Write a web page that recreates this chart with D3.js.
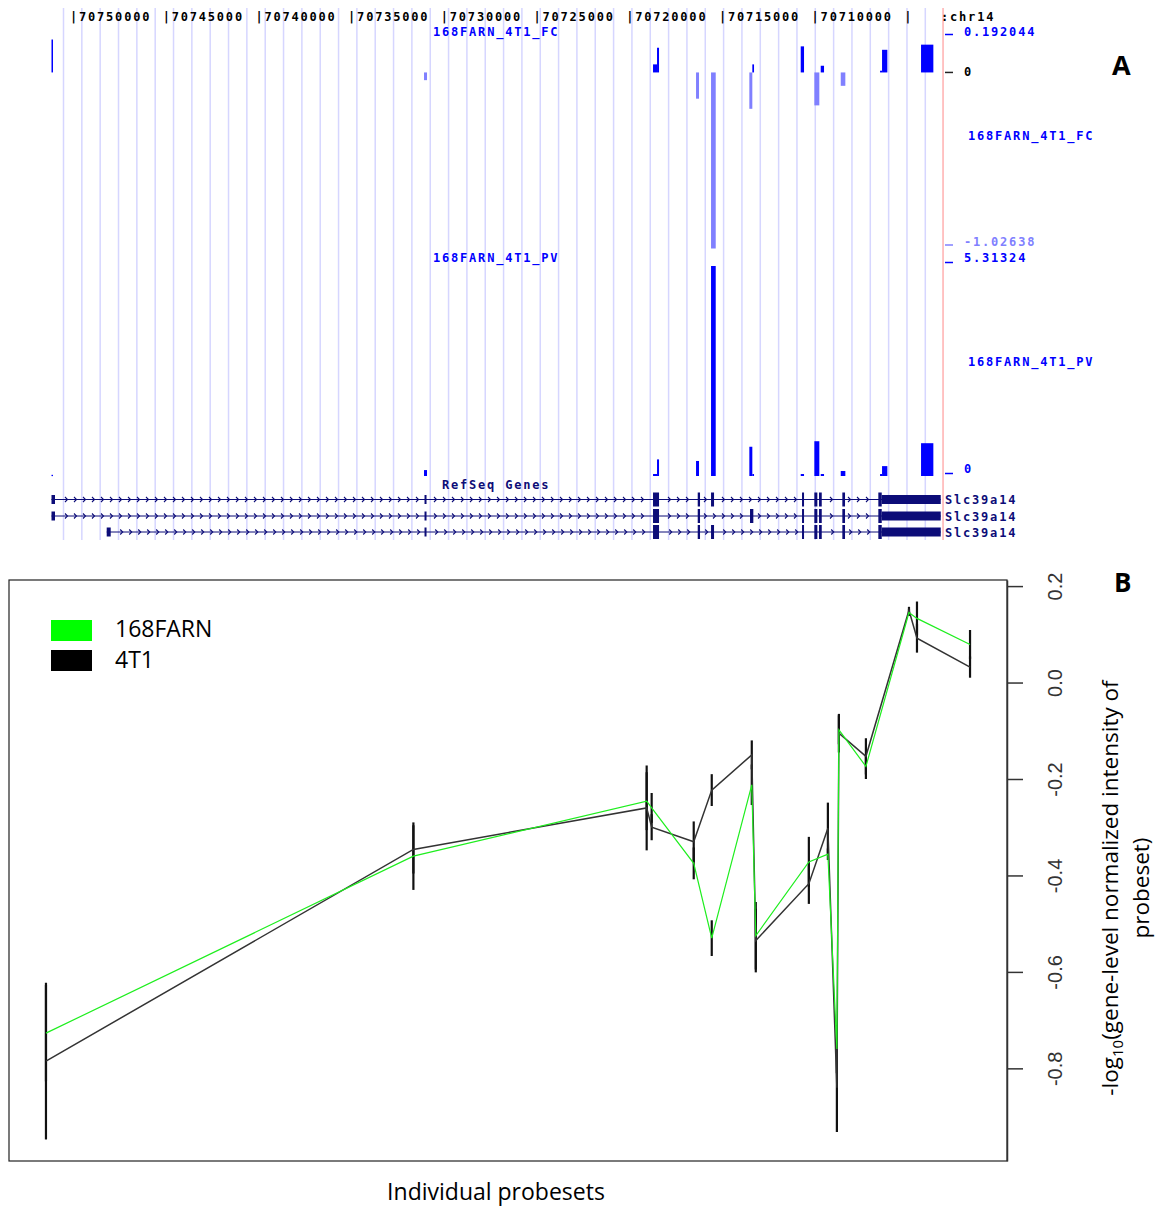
<!DOCTYPE html>
<html>
<head>
<meta charset="utf-8">
<script src="https://cdn.jsdelivr.net/npm/d3@7"></script>
<style>
  html, body { margin: 0; padding: 0; background: #fff; }
  svg { display: block; }
  .mono { font-family: "DejaVu Sans Mono", monospace; font-size: 12px; font-weight: bold; letter-spacing: 1.8px; }
  .sans { font-family: "Open Sans", "Liberation Sans", sans-serif; }
</style>
</head>
<body>
<svg id="fig" width="1165" height="1206"></svg>
<script>
// ---------- Panel A: genome browser view of Slc39a14 (chr14) ----------
const rulerTicks = [70750000, 70745000, 70740000, 70735000, 70730000, 70725000, 70720000, 70715000, 70710000];
const rulerBareTick = 70705000;
const windowEnd = 70703099;

// probe intervals [lo, hi] on chr14
const probeStart = [70751106, 70730932, 70718526, 70718418, 70716261, 70715360, 70713386, 70713294, 70710597, 70709772, 70709518, 70708369, 70706389, 70706104, 70703622];
const probeEnd   = [70751187, 70731094, 70718742, 70718526, 70716422, 70715613, 70713547, 70713386, 70710775, 70710041, 70709696, 70708617, 70706497, 70706389, 70704286];
// 168FARN vs 4T1 fold change and p-value tracks
const fcValues = [0.192, -0.045, 0.047, 0.144, -0.153, -1.02638, -0.212, 0.047, 0.152, -0.192, 0.039, -0.078, 0.01, 0.132, 0.162];
const pvValues = [0.03, 0.15, 0.05, 0.42, 0.38, 5.31324, 0.74, 0.05, 0.05, 0.88, 0.05, 0.127, 0.05, 0.25, 0.83];
const fcRange = [-1.02638, 0.192044];
const pvRange = [0, 5.31324];

// RefSeq transcripts of Slc39a14
const cdsRange = [70706406, 70718742];
const sharedExons = [[70730959, 70731067], [70718418, 70718742], [70716207, 70716331],
  [70710597, 70710705], [70709879, 70710041], [70709642, 70709788], [70708386, 70708531], [70703223, 70706589]];
const transcripts = [
  { name: "Slc39a14", txStart: 70703223, txEnd: 70751187, exons: [[70750998, 70751187], [70715451, 70715613], ...sharedExons] },
  { name: "Slc39a14", txStart: 70703223, txEnd: 70751187, exons: [[70750998, 70751187], [70713332, 70713510], ...sharedExons] },
  { name: "Slc39a14", txStart: 70703223, txEnd: 70748209, exons: [[70747993, 70748209], [70715451, 70715613], ...sharedExons] }
];

// ---------- Panel B: probeset intensities ----------
const probesetPos = [70751375, 70731579, 70719011, 70718742, 70716476, 70715505, 70713348, 70713132,
  70710273, 70709248, 70708763, 70708655, 70707199, 70704879, 70704448, 70701589];
const farnMean = [-0.727, -0.36, -0.246, -0.26, -0.375, -0.53, -0.212, -0.525, -0.372, -0.356, -0.76, -0.098, -0.174, 0.145, 0.133, 0.079];
const farnErr  = [0.1, 0.07, 0.06, 0.031, 0.033, 0.037, 0.042, 0.07, 0.052, 0.012, 0.05, 0.03, 0.026, 0.007, 0.035, 0.03];
const t41Mean  = [-0.785, -0.346, -0.26, -0.30, -0.33, -0.223, -0.15, -0.535, -0.417, -0.302, -0.84, -0.105, -0.153, 0.15, 0.092, 0.032];
const t41Err   = [0.1625, 0.05, 0.088, 0.027, 0.042, 0.033, 0.03, 0.066, 0.042, 0.053, 0.092, 0.04, 0.0375, 0.007, 0.03, 0.022];
const seriesNames = ["168FARN", "4T1"];
const seriesColors = ["#00ff00", "#000000"];
const yTicks = [-0.8, -0.6, -0.4, -0.2, 0.0, 0.2];

const svg = d3.select("#fig");
svg.append("rect").attr("width", 1165).attr("height", 1206).attr("fill", "#fff");

// genomic x scale (reverse orientation)
const gx = d3.scaleLinear().domain([70750000, 70705000]).range([73.5, 907.8]);
const fy = d3.scaleLinear().domain(fcRange).range([248.5, 39.5]);
const py = d3.scaleLinear().domain(pvRange).range([476, 266]);

const A = svg.append("g");

// guidelines
const guides = d3.range(70750539, 70703500, -989);
A.append("g").selectAll("line").data(guides).join("line")
  .attr("x1", d => gx(d)).attr("x2", d => gx(d))
  .attr("y1", 8).attr("y2", 540)
  .attr("stroke", "#d6d6ff").attr("stroke-width", 1.5);
A.append("line").attr("x1", gx(windowEnd)).attr("x2", gx(windowEnd))
  .attr("y1", 8).attr("y2", 540).attr("stroke", "#ffb0b0").attr("stroke-width", 1.5);

// base position ruler
A.append("g").selectAll("text").data(rulerTicks).join("text")
  .attr("class", "mono").attr("x", d => gx(d) - 3.5).attr("y", 20.5)
  .attr("fill", "#000").text(d => "|" + d);
A.append("text").attr("class", "mono").attr("x", gx(rulerBareTick) - 3.5).attr("y", 20.5).text("|");
A.append("text").attr("class", "mono").attr("x", gx(windowEnd) - 2).attr("y", 20.5).text(":chr14");

const probes = probeStart.map((s, i) => ({ lo: s, hi: probeEnd[i], fc: fcValues[i], pv: pvValues[i] }));
const bx = d => gx(d.hi);
const bw = d => Math.max(1.3, gx(d.lo) - gx(d.hi));

// fold-change track
A.append("g").selectAll("rect").data(probes).join("rect")
  .attr("x", bx).attr("width", bw)
  .attr("y", d => fy(Math.max(0, d.fc)))
  .attr("height", d => Math.max(1, Math.abs(fy(d.fc) - fy(0))))
  .attr("fill", d => d.fc >= 0 ? "#0000ff" : "#8080ff");

// p-value track
A.append("g").selectAll("rect").data(probes).join("rect")
  .attr("x", bx).attr("width", bw)
  .attr("y", d => py(d.pv))
  .attr("height", d => Math.max(1.3, py(0) - py(d.pv)))
  .attr("fill", "#0000ff");

// track labels
const blue = "#0000ff", light = "#8080ff", navy = "#0c0c78";
A.append("text").attr("class", "mono").attr("x", 433).attr("y", fy(fcRange[1]) - 4).attr("fill", blue).text("168FARN_4T1_FC");
A.append("text").attr("class", "mono").attr("x", 433).attr("y", py(pvRange[1]) - 4.5).attr("fill", blue).text("168FARN_4T1_PV");
A.append("text").attr("class", "mono").attr("x", 442).attr("y", 488.5).attr("fill", navy).text("RefSeq Genes");
A.append("text").attr("class", "mono").attr("x", 968).attr("y", 139.5).attr("fill", blue).text("168FARN_4T1_FC");
A.append("text").attr("class", "mono").attr("x", 968).attr("y", 365.5).attr("fill", blue).text("168FARN_4T1_PV");

const scaleLabels = [
  { y: fy(fcRange[1]) - 5, ty: fy(fcRange[1]) - 4, text: "0.192044", c: blue, uc: blue },
  { y: fy(0), ty: fy(0) + 4, text: "0", c: "#000", uc: "#222" },
  { y: fy(fcRange[0]) - 3.5, ty: fy(fcRange[0]) - 3, text: "-1.02638", c: light, uc: light },
  { y: py(pvRange[1]) - 3.5, ty: py(pvRange[1]) - 4.5, text: "5.31324", c: blue, uc: blue },
  { y: py(0) - 2.5, ty: py(0) - 3.5, text: "0", c: blue, uc: blue }
];
scaleLabels.forEach(l => {
  A.append("line").attr("x1", 945).attr("x2", 953).attr("y1", l.y).attr("y2", l.y)
    .attr("stroke", l.uc).attr("stroke-width", 1.5);
  A.append("text").attr("class", "mono").attr("x", 964).attr("y", l.ty).attr("fill", l.c).text(l.text);
});

// gene models
const rowY = [499.5, 516, 532];
transcripts.forEach((t, i) => {
  const g = A.append("g");
  const y = rowY[i];
  g.append("line").attr("x1", gx(t.txEnd)).attr("x2", gx(t.txStart))
    .attr("y1", y).attr("y2", y).attr("stroke", navy).attr("stroke-width", 1);
  const exPx = t.exons.map(e => [gx(e[1]), gx(e[0])]);
  const arrows = d3.range(gx(t.txEnd) + 6, gx(t.txStart) - 3, 9)
    .filter(x => !exPx.some(e => x > e[0] - 3 && x < e[1] + 3));
  g.selectAll("path").data(arrows).join("path")
    .attr("d", x => `M${x - 1.5},${y - 2.5}L${x + 1},${y}L${x - 1.5},${y + 2.5}`)
    .attr("fill", "none").attr("stroke", navy).attr("stroke-width", 1.1);
  // exon pieces split into coding (thick) and untranslated (thin)
  t.exons.forEach(e => {
    const parts = [];
    const cLo = Math.max(e[0], cdsRange[0]), cHi = Math.min(e[1], cdsRange[1]);
    if (cLo < cHi) {
      parts.push([cLo, cHi, 14]);
      if (e[0] < cLo) parts.push([e[0], cLo, 9]);
      if (e[1] > cHi) parts.push([cHi, e[1], 9]);
    } else parts.push([e[0], e[1], 9]);
    parts.forEach(p => {
      const x0 = gx(p[1]), w = Math.max(1.8, gx(p[0]) - gx(p[1]));
      g.append("rect").attr("x", x0).attr("width", w)
        .attr("y", y - p[2] / 2).attr("height", p[2]).attr("fill", navy);
    });
  });
  g.append("text").attr("class", "mono").attr("x", 945).attr("y", y + 4.5)
    .attr("fill", navy).text(t.name);
});

// panel letter
svg.append("text").attr("class", "sans").attr("x", 1112).attr("y", 75)
  .attr("font-size", 27).attr("font-weight", "bold").text("A");

// ---------- Panel B ----------
const B = svg.append("g");
const box = { l: 9, r: 1007, t: 580, b: 1161 };
const allLow = farnMean.map((v, i) => v - farnErr[i]).concat(t41Mean.map((v, i) => v - t41Err[i]));
const allHigh = farnMean.map((v, i) => v + farnErr[i]).concat(t41Mean.map((v, i) => v + t41Err[i]));
const yMin = d3.min(allLow), yMax = d3.max(allHigh);
const yPad = (yMax - yMin) * 0.04;
const y = d3.scaleLinear().domain([yMin - yPad, yMax + yPad]).range([box.b, box.t]);
const xMin = d3.min(probesetPos), xMax = d3.max(probesetPos);
const xPad = (xMax - xMin) * 0.04;
const x = d3.scaleLinear().domain([xMax + xPad, xMin - xPad]).range([box.l, box.r]);

B.append("rect").attr("x", box.l).attr("y", box.t).attr("width", box.r - box.l).attr("height", box.b - box.t)
  .attr("fill", "none").attr("stroke", "#222").attr("stroke-width", 1.2);

const series = [
  { name: seriesNames[0], color: "#1eee1e", mean: farnMean, err: farnErr, w: 1.2 },
  { name: seriesNames[1], color: "#333", mean: t41Mean, err: t41Err, w: 1.5 }
];

// error bars
series.forEach(s => {
  B.append("g").selectAll("line").data(probesetPos).join("line")
    .attr("x1", d => x(d)).attr("x2", d => x(d))
    .attr("y1", (d, i) => y(s.mean[i] - s.err[i]))
    .attr("y2", (d, i) => y(s.mean[i] + s.err[i]))
    .attr("stroke", "#111").attr("stroke-width", 2.2);
});

// mean profiles
const line = d3.line().x(d => x(d[0])).y(d => y(d[1]));
[series[1], series[0]].forEach(s => {
  B.append("path").datum(probesetPos.map((p, i) => [p, s.mean[i]]))
    .attr("d", line).attr("fill", "none").attr("stroke", s.color).attr("stroke-width", s.w);
});

// right axis
const axis = d3.axisRight(y).tickValues(yTicks).tickSize(16).tickSizeOuter(0)
  .tickFormat(d => d.toFixed(1));
const ax = B.append("g").attr("transform", `translate(${box.r},0)`).call(axis);
ax.select(".domain").attr("stroke", "#333").attr("stroke-width", 1.5);
ax.selectAll(".tick line").attr("stroke", "#333").attr("stroke-width", 1.5);
ax.selectAll(".tick text")
  .attr("x", null).attr("dy", null)
  .attr("transform", "translate(55,0) rotate(-90)")
  .attr("text-anchor", "middle")
  .attr("fill", "#333")
  .style("font-family", '"Liberation Sans Narrow", "Liberation Sans", sans-serif')
  .style("font-size", "20px");

// legend
const leg = B.append("g");
series.forEach((s, i) => {
  leg.append("rect").attr("x", 51).attr("y", 620 + i * 30).attr("width", 41).attr("height", 21)
    .attr("fill", seriesColors[i]);
  leg.append("text").attr("class", "sans").attr("x", 115).attr("y", 637 + i * 31)
    .attr("font-size", 23).attr("fill", "#000").text(s.name);
});

// axis titles
B.append("text").attr("class", "sans").attr("x", 496).attr("y", 1200)
  .attr("text-anchor", "middle").attr("font-size", 23).text("Individual probesets");
const yt = B.append("text").attr("class", "sans").attr("font-size", 22.5)
  .attr("text-anchor", "middle")
  .attr("transform", "translate(1118,888) rotate(-90)");
yt.append("tspan").text("-log");
yt.append("tspan").attr("font-size", 15).attr("dy", 5).text("10");
yt.append("tspan").attr("dy", -5).text("(gene-level normalized intensity of");
B.append("text").attr("class", "sans").attr("font-size", 22.5)
  .attr("text-anchor", "middle")
  .attr("transform", "translate(1149,888) rotate(-90)").text("probeset)");

svg.append("text").attr("class", "sans").attr("x", 1114).attr("y", 592)
  .attr("font-size", 26).attr("font-weight", "bold").text("B");
</script>
</body>
</html>
